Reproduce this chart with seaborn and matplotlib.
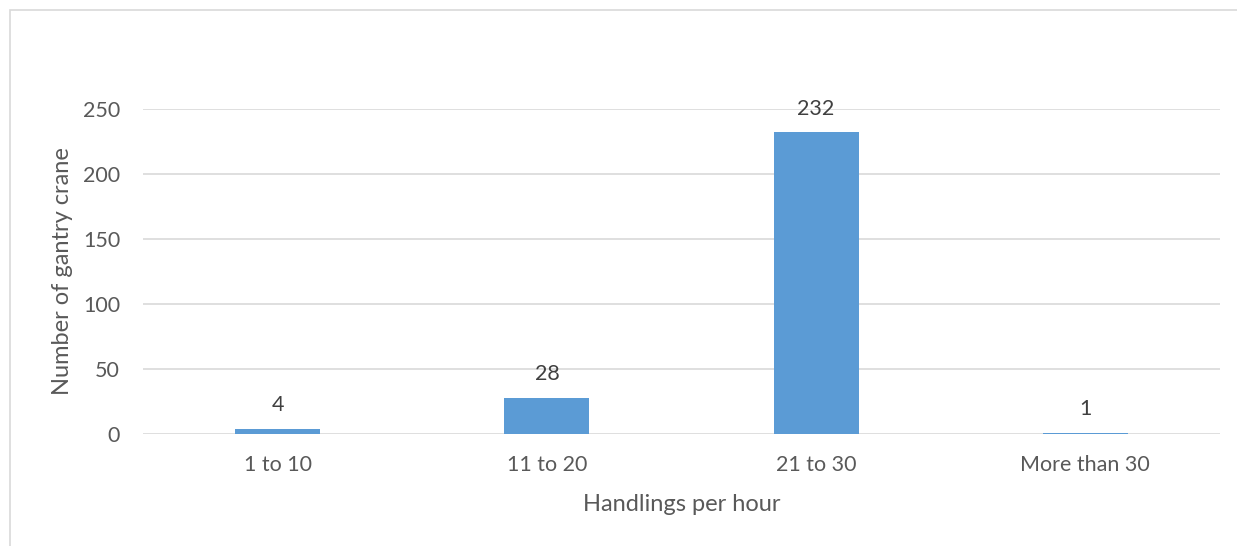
import matplotlib
matplotlib.use("Agg")
import matplotlib.pyplot as plt
import seaborn as sns
import pandas as pd

categories = ["1 to 10", "11 to 20", "21 to 30", "More than 30"]
cranes = [4, 28, 232, 1]
y_ticks = [0, 50, 100, 150, 200, 250]

df = pd.DataFrame({"band": categories, "count": cranes})

sns.set_theme(style="white")
plt.rcParams["font.family"] = ["Lato", "DejaVu Sans"]

text_color = "#595959"
grid_color = "#d9d9d9"
bar_color = "#5b9bd5"

W, H = 1237, 546
fig = plt.figure(figsize=(W / 100, H / 100), dpi=100)
fig.patch.set_facecolor("white")

# light frame around the chart area
frame = plt.Rectangle((10 / W, -0.01), 1.02, 1 - 10 / H + 0.01, transform=fig.transFigure,
                      fill=False, edgecolor=grid_color, linewidth=1.2)
fig.add_artist(frame)

ax = fig.add_axes([143 / W, 1 - 434 / H, (1220 - 143) / W, (434 - 109) / H])
sns.barplot(data=df, x="band", y="count", color=bar_color, width=0.316,
            saturation=1, linewidth=0, ax=ax, zorder=3)

ax.set_ylim(0, 250)
ax.set_xlim(-0.5, len(categories) - 0.5)
ax.set_yticks(y_ticks)
for t in y_ticks:
    ax.axhline(t, color=grid_color, linewidth=1.2, zorder=1)
for s in ax.spines.values():
    s.set_visible(False)
ax.tick_params(axis="both", length=0, colors=text_color, labelsize=15.5)
ax.tick_params(axis="x", pad=15)
ax.tick_params(axis="y", pad=16.5)

for i, v in enumerate(cranes):
    ax.annotate(str(v), (i, v), xytext=(0, 17), textcoords="offset points",
                ha="center", va="center", fontsize=15.5, color="#404040")

ax.set_xlabel("Handlings per hour", fontsize=17, color=text_color, labelpad=14)
ax.set_ylabel("Number of gantry crane", fontsize=17, color=text_color, labelpad=7)

fig.savefig("out.png", dpi=100, facecolor="white")
